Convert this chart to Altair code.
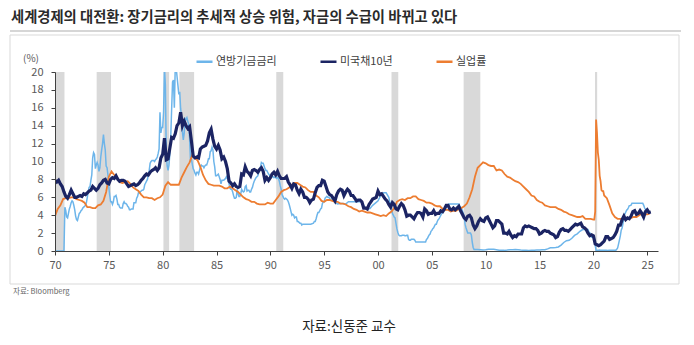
import altair as alt
import pandas as pd

title_text = "세계경제의 대전환: 장기금리의 추세적 상승 위험, 자금의 수급이 바뀌고 있다"
source_text = "자료: Bloomberg"
caption_text = "자료:신동준 교수"
unit_text = "(%)"
series_names = ["연방기금금리", "미국채10년", "실업률"]
series_colors = ["#6DB5EA", "#1B2463", "#ED7D31"]

x_ticks = [1970, 1975, 1980, 1985, 1990, 1995, 2000, 2005, 2010, 2015, 2020, 2025]
y_ticks = [0, 2, 4, 6, 8, 10, 12, 14, 16, 18, 20]

recession_start = [1970.0, 1973.87, 1980.07, 1981.55, 1990.55, 2001.25, 2007.95, 2020.15]
recession_end = [1970.88, 1975.2, 1980.6, 1982.92, 1991.2, 2001.88, 2009.5, 2020.35]

# Federal funds rate (values spread evenly within each year)
fed_funds = {
    1970: [0, 0, 0, 0, 0, 0, 0, 0, 0, 0, 0, 4.9],
    1971: [4.5, 3.8, 3.7, 4.2, 4.7, 5.0, 5.4, 5.6, 5.5, 5.1, 4.6, 3.9],
    1972: [3.5, 3.4, 3.8, 4.2, 4.3, 4.5, 4.6, 4.8, 4.9, 5.0, 5.1, 5.4],
    1973: [6.0, 6.6, 7.1, 7.2, 7.9, 8.5, 10.4, 11.0, 10.8, 9.2, 9.6, 9.9],
    1974: [9.6, 8.9, 9.3, 10.5, 11.3, 12.0, 13.0, 12.0, 11.3, 9.5, 9.3, 8.5],
    1975: [7.1, 6.2, 5.5, 5.5, 5.2, 5.5, 6.1, 6.1, 6.2, 5.8, 5.2, 5.2],
    1976: [4.9, 4.8, 4.8, 4.8, 5.3, 5.5, 5.3, 5.3, 5.2, 5.0, 4.9, 4.6],
    1977: [4.6, 4.7, 4.7, 4.7, 5.4, 5.4, 5.4, 5.9, 6.1, 6.5, 6.5, 6.6],
    1978: [6.7, 6.8, 6.8, 6.9, 7.4, 7.6, 7.8, 8.0, 8.5, 9.0, 9.8, 10.0],
    1979: [10.1, 10.1, 10.1, 10.0, 10.2, 10.3, 10.5, 10.9, 11.4, 15.5, 13.2, 13.8],
    1980: [13.8, 15.5, 20.5, 18.5, 11.0, 9.5, 9.0, 9.6, 10.9, 12.8, 15.9, 18.9],
    1981: [19.1, 16.0, 20.5, 20.5, 19.5, 18.5, 17.5, 17.8, 15.9, 15.1, 13.3, 12.4],
    1982: [13.2, 14.8, 14.7, 14.9, 14.5, 14.2, 12.6, 10.1, 10.3, 9.7, 9.2, 9.0],
    1983: [8.7, 8.5, 8.8, 8.8, 8.6, 9.0, 9.4, 9.6, 9.5, 9.5, 9.3, 9.5],
    1984: [9.6, 9.6, 9.9, 10.3, 10.3, 11.1, 11.2, 11.6, 11.3, 10.0, 9.4, 8.4],
    1985: [8.4, 8.5, 8.6, 8.3, 8.0, 7.5, 7.9, 7.9, 7.9, 8.0, 8.1, 8.3],
    1986: [8.1, 7.9, 7.5, 7.0, 6.9, 6.9, 6.6, 6.2, 5.9, 5.9, 6.0, 6.9],
    1987: [6.4, 6.1, 6.1, 6.4, 6.9, 6.7, 6.6, 6.7, 7.2, 7.3, 6.7, 6.8],
    1988: [6.8, 6.6, 6.6, 6.9, 7.1, 7.5, 7.8, 8.0, 8.2, 8.3, 8.4, 8.8],
    1989: [9.1, 9.4, 9.9, 9.8, 9.8, 9.5, 9.2, 9.0, 9.0, 8.8, 8.6, 8.5],
    1990: [8.2, 8.2, 8.3, 8.3, 8.2, 8.3, 8.2, 8.1, 8.2, 8.1, 7.8, 7.3],
    1991: [6.9, 6.3, 6.1, 5.9, 5.8, 5.9, 5.8, 5.7, 5.5, 5.2, 4.8, 4.4],
    1992: [4.0, 4.1, 4.0, 3.7, 3.8, 3.8, 3.3, 3.3, 3.2, 3.1, 3.1, 2.9],
    1993: [3.0, 3.0, 3.0, 3.0],
    1994: [3.1, 3.3, 3.3, 3.6, 4.0, 4.3, 4.3, 4.5, 4.7, 4.8, 5.3, 5.5],
    1995: [5.5, 5.9, 6.0, 6.1, 6.0, 6.0, 5.9, 5.7, 5.8, 5.8, 5.8, 5.6],
    1996: [5.4, 5.25, 5.3, 5.3],
    1997: [5.25, 5.5, 5.5, 5.5],
    1998: [5.5, 5.5, 5.5, 4.9],
    1999: [4.7, 4.75, 5.1, 5.35],
    2000: [5.6, 6.2, 6.5, 6.5],
    2001: [6.0, 5.5, 5.3, 4.8, 4.2, 4.0, 3.8, 3.7, 3.1, 2.5, 2.1, 1.8],
    2002: [1.7, 1.7, 1.7, 1.75, 1.75, 1.75, 1.7, 1.7, 1.75, 1.75, 1.3, 1.2],
    2003: [1.2, 1.3, 1.3, 1.3, 1.3, 1.2, 1.0, 1.0, 1.0, 1.0, 1.0, 1.0],
    2004: [1.0, 1.0, 1.0, 1.0, 1.0, 1.0, 1.3, 1.4, 1.6, 1.8, 1.9, 2.2],
    2005: [2.3, 2.5, 2.6, 2.8, 3.0, 3.0, 3.3, 3.5, 3.6, 3.8, 4.0, 4.2],
    2006: [4.3, 4.5, 4.6, 4.8, 4.9, 5.0, 5.2, 5.25, 5.25, 5.25, 5.25, 5.25],
    2007: [5.25, 5.25, 5.25, 5.25, 5.25, 5.25, 5.25, 5.0, 4.9, 4.8, 4.5, 4.2],
    2008: [3.9, 3.0, 2.6, 2.3, 2.0, 2.0, 2.0, 2.0, 1.8, 1.0, 0.4, 0.16],
    2009: [0.16, 0.18, 0.15, 0.12],
    2010: [0.13, 0.19, 0.19, 0.19],
    2011: [0.15, 0.09, 0.08, 0.07],
    2012: [0.1, 0.15, 0.14, 0.16],
    2013: [0.14, 0.1, 0.08, 0.09],
    2014: [0.07, 0.09, 0.09, 0.1],
    2015: [0.11, 0.13, 0.14, 0.24],
    2016: [0.36, 0.37, 0.4, 0.45],
    2017: [0.66, 0.95, 1.15, 1.2],
    2018: [1.42, 1.74, 1.92, 2.2],
    2019: [2.4, 2.4, 2.41, 2.42, 2.39, 2.38, 2.4, 2.13, 2.04, 1.83, 1.55, 1.55],
    2020: [1.55, 1.58, 0.65, 0.05, 0.05, 0.08, 0.09, 0.1, 0.09, 0.09, 0.09, 0.09],
    2021: [0.08, 0.07, 0.09, 0.08],
    2022: [0.08, 0.08, 0.2, 0.33, 0.77, 1.21, 1.68, 2.33, 2.56, 3.08, 3.78, 4.1],
    2023: [4.33, 4.57, 4.65, 4.83, 5.06, 5.08, 5.12, 5.33, 5.33, 5.33, 5.33, 5.33],
    2024: [5.33, 5.33, 5.33, 5.33, 5.33, 5.33, 5.33, 5.33, 5.13, 4.83, 4.64, 4.48],
    2025: [4.33, 4.33, 4.33, 4.33],
}
fed_partial = {2025: 12}

# 10-year Treasury yield (bimonthly)
ust10 = {
    1970: [7.9, 7.7, 7.9, 7.5, 7.2, 6.6],
    1971: [6.1, 5.9, 6.3, 6.8, 6.4, 6.0],
    1972: [6.0, 6.1, 6.2, 6.1, 6.4, 6.3],
    1973: [6.5, 6.7, 6.8, 7.2, 7.0, 6.8],
    1974: [7.0, 7.4, 7.6, 7.9, 8.0, 7.6],
    1975: [7.5, 8.0, 8.2, 8.1, 8.4, 8.0],
    1976: [7.8, 7.9, 7.9, 7.8, 7.5, 7.2],
    1977: [7.3, 7.4, 7.5, 7.3, 7.4, 7.6],
    1978: [7.9, 8.1, 8.4, 8.6, 8.5, 8.8],
    1979: [9.0, 9.1, 9.3, 9.0, 9.3, 10.4],
    1980: [10.8, 12.6, 10.2, 10.3, 11.5, 12.7],
    1981: [12.6, 13.1, 14.0, 14.3, 15.5, 14.0],
    1982: [14.5, 14.0, 13.7, 13.9, 12.3, 10.6],
    1983: [10.4, 10.5, 10.4, 11.4, 11.6, 11.7],
    1984: [11.8, 12.3, 13.2, 13.6, 12.5, 11.7],
    1985: [11.4, 11.8, 11.3, 10.3, 10.5, 10.0],
    1986: [9.2, 7.8, 7.6, 7.3, 7.5, 7.2],
    1987: [7.1, 7.2, 8.6, 8.5, 9.4, 8.9],
    1988: [8.7, 8.4, 9.0, 9.1, 9.0, 8.8],
    1989: [9.1, 9.3, 8.9, 7.9, 8.2, 7.9],
    1990: [8.2, 8.6, 8.8, 8.5, 8.9, 8.4],
    1991: [8.1, 8.1, 8.1, 8.3, 7.7, 7.4],
    1992: [7.0, 7.5, 7.4, 6.8, 6.4, 6.9],
    1993: [6.6, 6.0, 6.0, 5.8, 5.4, 5.7],
    1994: [5.8, 6.5, 7.1, 7.3, 7.3, 7.9],
    1995: [7.8, 7.2, 6.6, 6.3, 6.2, 5.9],
    1996: [5.6, 6.3, 6.7, 6.9, 6.8, 6.2],
    1997: [6.6, 6.9, 6.7, 6.2, 6.2, 5.9],
    1998: [5.6, 5.7, 5.7, 5.5, 4.8, 4.8],
    1999: [4.7, 5.2, 5.5, 5.8, 5.9, 6.0],
    2000: [6.7, 6.3, 6.4, 6.1, 5.8, 5.6],
    2001: [5.2, 4.9, 5.4, 5.2, 4.7, 4.6],
    2002: [5.0, 5.3, 5.1, 4.6, 3.9, 4.0],
    2003: [4.0, 3.8, 3.6, 4.0, 4.3, 4.3],
    2004: [4.2, 3.8, 4.7, 4.5, 4.1, 4.2],
    2005: [4.2, 4.5, 4.1, 4.2, 4.2, 4.5],
    2006: [4.4, 4.7, 5.1, 5.1, 4.7, 4.6],
    2007: [4.8, 4.6, 4.8, 5.0, 4.5, 4.1],
    2008: [3.7, 3.5, 3.9, 4.0, 3.7, 2.9],
    2009: [2.5, 2.8, 3.3, 3.6, 3.4, 3.3],
    2010: [3.7, 3.8, 3.4, 3.0, 2.6, 2.8],
    2011: [3.4, 3.4, 3.2, 3.0, 2.0, 2.0],
    2012: [1.9, 2.2, 1.8, 1.5, 1.7, 1.6],
    2013: [1.9, 1.9, 1.9, 2.6, 2.8, 2.7],
    2014: [2.8, 2.7, 2.6, 2.5, 2.5, 2.3],
    2015: [1.9, 2.0, 2.2, 2.3, 2.2, 2.2],
    2016: [2.0, 1.9, 1.8, 1.5, 1.6, 2.1],
    2017: [2.4, 2.5, 2.3, 2.3, 2.2, 2.4],
    2018: [2.6, 2.8, 3.0, 2.9, 3.0, 3.1],
    2019: [2.7, 2.6, 2.4, 2.0, 1.7, 1.8],
    2020: [1.7, 0.8, 0.7, 0.6, 0.7, 0.9],
    2021: [1.1, 1.6, 1.6, 1.3, 1.4, 1.5],
    2022: [1.8, 2.2, 2.9, 2.9, 3.5, 3.9],
    2023: [3.5, 3.7, 3.6, 3.9, 4.4, 4.5],
    2024: [4.1, 4.2, 4.5, 4.2, 3.8, 4.4],
    2025: [4.6, 4.3, 4.35],
}
ust_partial = {2025: 6}

# Unemployment rate (quarterly, monthly in 2020)
unemployment = {
    1970: [3.9, 4.7, 5.1, 5.8],
    1971: [5.9, 5.9, 6.0, 6.0],
    1972: [5.8, 5.7, 5.6, 5.4],
    1973: [4.9, 4.9, 4.8, 4.8],
    1974: [5.1, 5.2, 5.6, 6.6],
    1975: [8.3, 8.9, 8.5, 8.3],
    1976: [7.7, 7.6, 7.7, 7.8],
    1977: [7.5, 7.1, 6.9, 6.7],
    1978: [6.3, 6.0, 6.0, 5.9],
    1979: [5.9, 5.7, 5.9, 6.0],
    1980: [6.3, 7.3, 7.7, 7.4],
    1981: [7.4, 7.4, 7.4, 8.2],
    1982: [8.8, 9.4, 9.9, 10.7],
    1983: [10.4, 10.1, 9.4, 8.5],
    1984: [7.9, 7.5, 7.4, 7.3],
    1985: [7.3, 7.3, 7.2, 7.0],
    1986: [7.0, 7.2, 7.0, 6.8],
    1987: [6.6, 6.3, 6.0, 5.8],
    1988: [5.7, 5.5, 5.5, 5.3],
    1989: [5.2, 5.2, 5.2, 5.4],
    1990: [5.3, 5.3, 5.7, 6.1],
    1991: [6.6, 6.8, 6.9, 7.1],
    1992: [7.4, 7.6, 7.6, 7.4],
    1993: [7.2, 7.1, 6.8, 6.6],
    1994: [6.6, 6.2, 6.0, 5.6],
    1995: [5.5, 5.7, 5.7, 5.6],
    1996: [5.5, 5.5, 5.3, 5.3],
    1997: [5.2, 5.0, 4.9, 4.7],
    1998: [4.6, 4.4, 4.5, 4.4],
    1999: [4.3, 4.3, 4.2, 4.1],
    2000: [4.0, 3.9, 4.0, 3.9],
    2001: [4.2, 4.4, 4.8, 5.5],
    2002: [5.7, 5.8, 5.7, 5.9],
    2003: [5.9, 6.1, 6.1, 5.8],
    2004: [5.7, 5.6, 5.4, 5.4],
    2005: [5.3, 5.1, 5.0, 5.0],
    2006: [4.7, 4.6, 4.6, 4.4],
    2007: [4.5, 4.5, 4.7, 4.8],
    2008: [5.0, 5.3, 6.0, 6.9],
    2009: [8.3, 9.3, 9.6, 9.9],
    2010: [9.8, 9.6, 9.5, 9.5],
    2011: [9.0, 9.1, 9.0, 8.6],
    2012: [8.3, 8.2, 8.0, 7.8],
    2013: [7.7, 7.5, 7.2, 6.9],
    2014: [6.6, 6.2, 6.1, 5.7],
    2015: [5.5, 5.4, 5.1, 5.0],
    2016: [4.9, 4.9, 4.9, 4.7],
    2017: [4.6, 4.4, 4.3, 4.1],
    2018: [4.0, 3.9, 3.8, 3.8],
    2019: [3.9, 3.6, 3.6, 3.6],
    2020: [3.5, 3.5, 4.4, 14.7, 13.2, 11.0, 10.2, 8.4, 7.8, 6.8, 6.7, 6.7],
    2021: [6.2, 5.9, 5.1, 4.2],
    2022: [3.8, 3.6, 3.6, 3.6],
    2023: [3.5, 3.6, 3.7, 3.8],
    2024: [3.8, 4.0, 4.2, 4.1],
    2025: [4.1, 4.2],
}
unemp_partial = {2025: 4}


def expand(table, partial, name):
    rows = []
    for yr, vals in table.items():
        n = partial.get(yr, len(vals))
        for i, v in enumerate(vals):
            rows.append({"t": yr + i / n, "v": v, "series": name})
    return pd.DataFrame(rows)


df_fed = expand(fed_funds, fed_partial, series_names[0])
df_ust = expand(ust10, ust_partial, series_names[1])
df_un = expand(unemployment, unemp_partial, series_names[2])
df_rec = pd.DataFrame({"start": recession_start, "end": recession_end})

W, H = 603, 179
FONT = "Noto Sans CJK KR"

x_scale = alt.Scale(domain=[1970, 2026], nice=False, zero=False)
y_scale = alt.Scale(domain=[0, 20], nice=False)
color_scale = alt.Scale(domain=series_names, range=series_colors)

x_axis = alt.Axis(values=x_ticks, labelExpr="slice(toString(datum.value), 2)", grid=False,
                  title=None, domainColor="#404040", tickColor="#404040", tickSize=4,
                  labelFontSize=11, labelColor="#595959", labelPadding=4, labelFont=FONT,
                  labelFlush=False, zindex=1)
y_axis = alt.Axis(values=y_ticks, grid=False, title=None, domainColor="#404040",
                  tickColor="#404040", tickSize=4, labelFontSize=11, labelColor="#595959",
                  labelPadding=8, labelFont=FONT, zindex=1)

one = pd.DataFrame({"a": [0]})

box = alt.Chart(one).mark_rect(fill="white", stroke="#D9D9D9", strokeWidth=1).encode(
    x=alt.value(-45), x2=alt.value(624), y=alt.value(-37), y2=alt.value(212))
sep = alt.Chart(one).mark_rule(color="#D6D6D6", strokeWidth=2).encode(
    x=alt.value(-45), x2=alt.value(626), y=alt.value(-41))

rec = alt.Chart(df_rec).mark_rect(color="#D9D9D9").encode(
    x=alt.X("start:Q", scale=x_scale, axis=x_axis),
    x2="end:Q",
    y=alt.value(0), y2=alt.value(H))


def line_layer(df, width):
    return alt.Chart(df).mark_line(strokeWidth=width, clip=True, interpolate="linear").encode(
        x=alt.X("t:Q", scale=x_scale, axis=x_axis),
        y=alt.Y("v:Q", scale=y_scale, axis=y_axis),
        color=alt.Color("series:N", scale=color_scale, legend=alt.Legend(
            title=None, orient="none", legendX=140, legendY=-20, direction="horizontal",
            symbolType="stroke", symbolSize=256, symbolStrokeWidth=2.5, labelFont=FONT,
            labelFontSize=11, labelColor="#404040", labelOffset=2, columnPadding=38)),
    )


lines = [line_layer(df_fed, 1.5), line_layer(df_un, 1.8), line_layer(df_ust, 3.2)]

title = alt.Chart(pd.DataFrame({"s": [title_text]})).mark_text(
    align="left", baseline="middle", font=FONT, fontSize=14.3, fontWeight="bold",
    color="#2a2a2a").encode(
    x=alt.value(-44), y=alt.value(-54), text="s:N")
unit = alt.Chart(pd.DataFrame({"s": [unit_text]})).mark_text(
    align="center", baseline="middle", font=FONT, fontSize=10, color="#595959").encode(
    x=alt.value(-24), y=alt.value(-13), text="s:N")
source = alt.Chart(pd.DataFrame({"s": [source_text]})).mark_text(
    align="left", baseline="middle", font=FONT, fontSize=7.5, color="#666666").encode(
    x=alt.value(-42), y=alt.value(220), text="s:N")
caption = alt.Chart(pd.DataFrame({"s": [caption_text]})).mark_text(
    align="center", baseline="middle", font=FONT, fontSize=13.5, color="#222222").encode(
    x=alt.value(294), y=alt.value(255), text="s:N")

chart = alt.layer(box, sep, rec, *lines, title, unit, source, caption).properties(
    width=W, height=H,
    autosize=alt.AutoSizeParams(type="none"),
    padding={"left": 55, "top": 72, "right": 36, "bottom": 94},
    background="white",
).configure_view(stroke=None)

chart.save("out.html", embed_options={"renderer": "svg", "actions": False})
